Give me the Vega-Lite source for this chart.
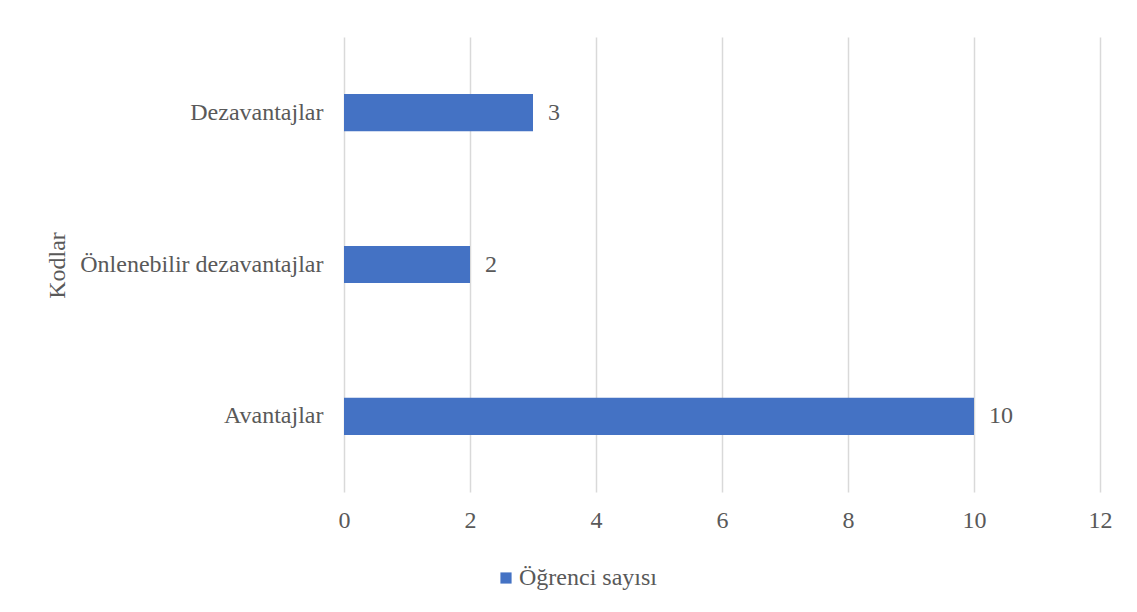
{
  "$schema": "https://vega.github.io/schema/vega-lite/v6.json",
  "autosize": {"type": "none"},
  "width": 756,
  "height": 455,
  "padding": {"left": 344, "top": 37, "right": 37, "bottom": 120},
  "background": "white",
  "config": {
    "view": {"stroke": null},
    "font": "Liberation Serif",
    "axis": {
      "labelFont": "Liberation Serif",
      "titleFont": "Liberation Serif",
      "labelColor": "#595959",
      "titleColor": "#595959",
      "labelFontSize": 24,
      "titleFontSize": 24,
      "titleFontWeight": "normal",
      "labelLimit": 400,
      "domain": false,
      "ticks": false,
      "gridColor": "#d9d9d9",
      "gridWidth": 1.5
    },
    "legend": {
      "labelFont": "Liberation Serif",
      "labelColor": "#595959",
      "labelFontSize": 24
    }
  },
  "data": {
    "values": [
      {"kod": "Dezavantajlar", "sayi": 3, "seri": "Öğrenci sayısı"},
      {"kod": "Önlenebilir dezavantajlar", "sayi": 2, "seri": "Öğrenci sayısı"},
      {"kod": "Avantajlar", "sayi": 10, "seri": "Öğrenci sayısı"}
    ]
  },
  "encoding": {
    "y": {
      "field": "kod",
      "type": "nominal",
      "sort": ["Dezavantajlar", "Önlenebilir dezavantajlar", "Avantajlar"],
      "scale": {"paddingInner": 0.756, "paddingOuter": 0.376},
      "axis": {
        "title": "Kodlar",
        "grid": false,
        "labelPadding": 21,
        "titleAngle": 270,
        "titleAlign": "center",
        "titleBaseline": "alphabetic",
        "titleX": -280,
        "titleY": 228
      }
    },
    "x": {
      "field": "sayi",
      "type": "quantitative",
      "scale": {"domain": [0, 12], "nice": false},
      "axis": {
        "title": null,
        "values": [0, 2, 4, 6, 8, 10, 12],
        "labelFlush": false,
        "labelPadding": 16,
        "grid": true
      }
    }
  },
  "layer": [
    {
      "mark": {"type": "bar", "color": "#4472C4"},
      "encoding": {
        "color": {
          "field": "seri",
          "type": "nominal",
          "scale": {"range": ["#4472C4"]},
          "legend": {
            "title": null,
            "orient": "none",
            "legendX": 150,
            "legendY": 529,
            "symbolType": "square",
            "symbolSize": 125,
            "symbolStrokeWidth": 0,
            "labelOffset": 1,
            "padding": 0
          }
        }
      }
    },
    {
      "mark": {
        "type": "text",
        "align": "left",
        "baseline": "middle",
        "dx": 15,
        "fontSize": 24,
        "font": "Liberation Serif",
        "color": "#595959"
      },
      "encoding": {
        "text": {"field": "sayi", "type": "quantitative"}
      }
    }
  ]
}
